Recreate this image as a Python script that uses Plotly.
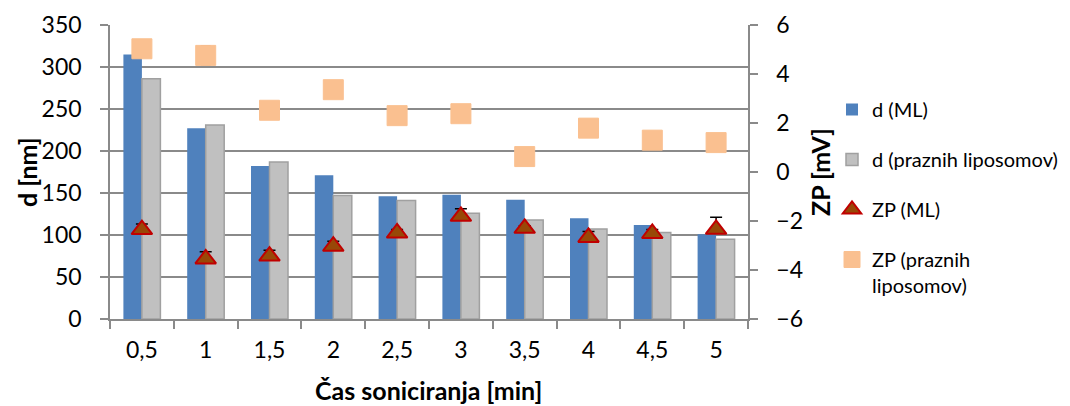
import plotly.graph_objects as go

categories = ["0,5", "1", "1,5", "2", "2,5", "3", "3,5", "4", "4,5", "5"]
d_ml = [315, 227, 182, 171, 146, 148, 142, 120, 112, 101]
d_empty = [286, 231, 187, 147, 141, 126, 118, 107, 103, 95]
zp_ml = [-2.35, -3.55, -3.43, -3.03, -2.49, -1.81, -2.30, -2.67, -2.51, -2.34]
zp_ml_err = [0.23, 0.30, 0.24, 0.20, 0.14, 0.31, 0.11, 0.24, 0.16, 0.49]
zp_empty = [5.03, 4.76, 2.52, 3.36, 2.30, 2.38, 0.63, 1.79, 1.30, 1.20]
zp_empty_err = [0, 0.38, 0, 0, 0, 0, 0, 0, 0, 0]

FONT = "Lato"
GRID = "#8a8a8a"
OFF = 8  # page body margin
W, H = 1070 - OFF, 406 - OFF
L, T = 110 - OFF, 25 - OFF
PW, PH = 638, 294
R, B = W - L - PW, H - T - PH


def px_x(x):
    return (x - OFF - L) / PW


def px_y(y):
    return (T + PH - (y - OFF)) / PH


fig = go.Figure()
fig.add_trace(go.Bar(
    x=categories, y=d_ml, name="d (ML)", legendgroup="a",
    marker=dict(color="#4f81bd", line=dict(color="#4f81bd", width=0)),
))
fig.add_trace(go.Bar(
    x=categories, y=d_empty, name="d (praznih liposomov)", legendgroup="b",
    marker=dict(color="#c0c0c0", line=dict(color="#a0a0a0", width=1.5)),
))
fig.add_trace(go.Scatter(
    x=categories, y=zp_ml, name="ZP (ML)", legendgroup="c",
    mode="markers", yaxis="y2",
    marker=dict(symbol="triangle-up", size=18, color="#984807", line=dict(color="#c00000", width=2)),
    error_y=dict(type="data", array=zp_ml_err, arrayminus=[0] * len(zp_ml_err),
                 symmetric=False, color="black", thickness=1.5, width=6),
))
fig.add_trace(go.Scatter(
    x=categories, y=zp_empty, name="ZP (praznih<br>liposomov)", legendgroup="d",
    mode="markers", yaxis="y2",
    marker=dict(symbol="square", size=20, color="#fac090", line=dict(color="#fac090", width=1)),
    error_y=dict(type="data", array=zp_empty_err, color="#a0683a", thickness=1.5, width=5),
))

axis_common = dict(
    showline=True, linecolor=GRID, linewidth=1.5,
    ticks="outside", ticklen=8, tickcolor=GRID, tickwidth=1.5,
    zeroline=False, automargin=False, tickfont=dict(family=FONT, size=23, color="black"),
)

fig.update_layout(
    width=W, height=H,
    margin=dict(l=L, r=R, t=T, b=B, autoexpand=False),
    plot_bgcolor="white", paper_bgcolor="white",
    font=dict(family=FONT, size=20, color="black"),
    barmode="group", bargap=0.42, bargroupgap=0,
    showlegend=True,
    legend=dict(
        x=px_x(832), y=px_y(90), xanchor="left", yanchor="top",
        font=dict(family=FONT, size=20, color="black"),
        traceorder="grouped", tracegroupgap=21, itemwidth=30, valign="top",
    ),
    xaxis=dict(
        type="category", tickson="boundaries", showgrid=False, range=[-0.5, 9.5],
        ticklabelstandoff=10, **axis_common,
    ),
    yaxis=dict(
        range=[0, 350], dtick=50, showgrid=True, gridcolor=GRID, gridwidth=1.5,
        ticklabelstandoff=14, **axis_common,
    ),
    yaxis2=dict(
        range=[-6, 6], dtick=2, overlaying="y", side="right", showgrid=False,
        ticklabelstandoff=14, **axis_common,
    ),
    annotations=[
        dict(text="<b>d [nm]</b>", x=px_x(27), y=px_y(172), xref="paper", yref="paper",
             textangle=-90, showarrow=False, font=dict(family=FONT, size=25),
             xanchor="center", yanchor="middle"),
        dict(text="<b>ZP [mV]</b>", x=px_x(820), y=px_y(172), xref="paper", yref="paper",
             textangle=-90, showarrow=False, font=dict(family=FONT, size=25),
             xanchor="center", yanchor="middle"),
        dict(text="<b>Čas soniciranja [min]</b>", x=px_x(428), y=px_y(390), xref="paper",
             yref="paper", showarrow=False, font=dict(family=FONT, size=25),
             xanchor="center", yanchor="middle"),
    ],
)

fig.write_html("out.html")
